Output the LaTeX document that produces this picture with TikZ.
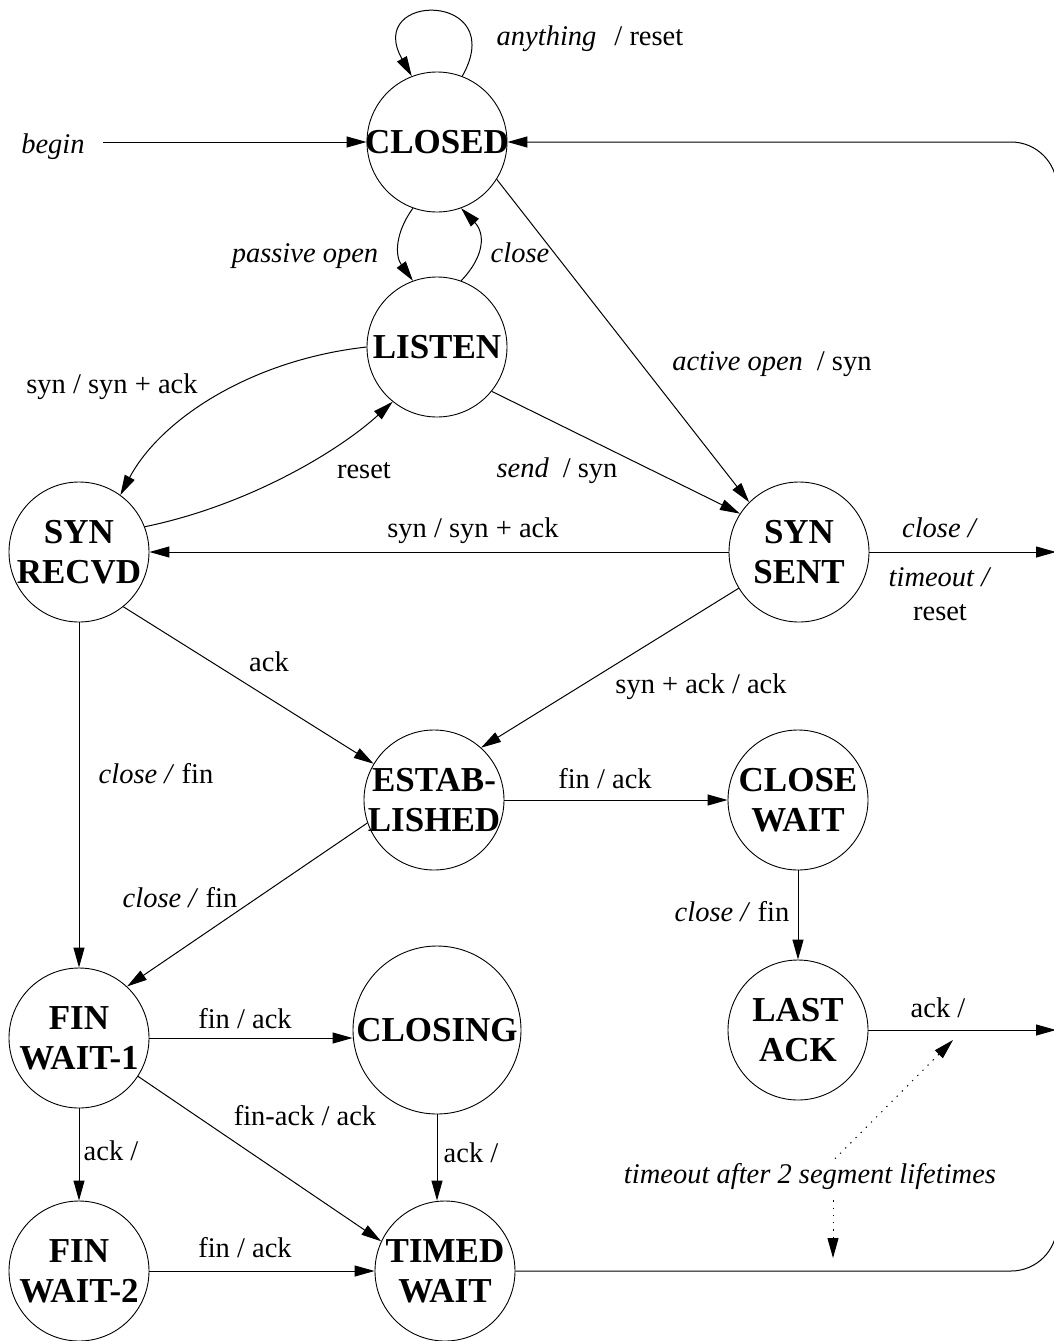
\documentclass[tikz,border=0pt]{standalone}
\usepackage{fontspec}
\setmainfont{Liberation Serif}
\usetikzlibrary{arrows.meta}
\begin{document}
\begin{tikzpicture}[x=1pt,y=-1pt,
  stt/.style={circle,draw,line width=0.9pt,minimum size=140pt,inner sep=0pt},
  stxt/.style={font=\fontsize{35}{40}\selectfont\bfseries,align=center,inner sep=0pt},
  lbl/.style={font=\fontsize{28.5}{32}\selectfont,inner sep=2pt,align=center,anchor=base},
  arr/.style={line width=1pt,-{Triangle[length=20pt,width=11pt]}},
  dotarr/.style={arr,dash pattern=on 1.3pt off 6pt}]
\useasboundingbox (0,0) rectangle (1054,1341);
\clip (0,0) rectangle (1054,1341);
\fill[white] (0,0) rectangle (1054,1341);

% states
\node[stt] (closed) at (437,142) {};
\node[stxt] (closedt) at (closed) {CLOSED};
\node[stt] (listen) at (437,347) {};
\node[stxt] (listent) at (listen) {LISTEN};
\node[stt] (synrcvd) at (79,552) {};
\node[stxt] (synrcvdt) at (synrcvd) {SYN\\RECVD};
\node[stt] (synsent) at (799,552) {};
\node[stxt] (synsentt) at (synsent) {SYN\\SENT};
\node[stt] (estab) at (434,800) {};
\node[stxt] (estabt) at (estab) {ESTAB-\\LISHED};
\node[stt] (closewait) at (798,800) {};
\node[stxt] (closewaitt) at (closewait) {CLOSE\\WAIT};
\node[stt] (finw1) at (79,1038) {};
\node[stxt] (finw1t) at (finw1) {FIN\\WAIT-1};
\node[stt,minimum size=168pt] (closing) at (437,1030) {};
\node[stxt] (closingt) at (closing) {CLOSING};
\node[stt] (lastack) at (798,1030) {};
\node[stxt] (lastackt) at (lastack) {LAST\\ACK};
\node[stt] (finw2) at (79,1271) {};
\node[stxt] (finw2t) at (finw2) {FIN\\WAIT-2};
\node[stt] (timedwait) at (445,1271) {};
\node[stxt] (timedwaitt) at (timedwait) {TIMED\\WAIT};

% free ends
\coordinate (bstart) at (103,142);
\coordinate (rA) at (1056,552);
\coordinate (rB) at (1056,1030);
\coordinate (dA) at (953,1040);
\coordinate (dB) at (833,1258);

% connectors
\draw[arr] (closed.69) .. controls +(48,-85) and +(-48,-85) .. (closed.111);
\draw[arr] (bstart) -- (closed);
\draw[arr] (closed.250) .. controls +(-18,25) and +(-18,-25) .. (listen.110);
\draw[arr] (listen.70) .. controls +(24,-25) and +(24,25) .. (closed.290);
\draw[arr] (closed.-32) -- (synsent.135);
\draw[arr] (listen.west) .. controls (250,360) and (160,420) .. (synrcvd.54);
\draw[arr] (synrcvd.21) .. controls (250,505) and (340,450) .. (listen.231);
\draw[arr] (listen.-39) -- (synsent.147);
\draw[arr] (synsent) -- (synrcvd);
\draw[arr] (synsent) -- (rA);
\draw[arr] (synrcvd.-51) -- (estab.149);
\draw[arr] (synsent.211) -- (estab.48);
\draw[arr] (synrcvd) -- (finw1);
\draw[arr] (estab) -- (closewait);
\draw[arr] (estab.199) -- (finw1.47);
\draw[arr] (closewait) -- (lastack);
\draw[arr] (finw1.east) -- (finw1.east -| closing.west);
\draw[arr] (lastack) -- (rB);
\draw[arr] (finw1.-33) -- (timedwait.155);
\draw[arr] (finw1) -- (finw2);
\draw[arr] (closing.south) -- (closing.south |- timedwait.north);
\draw[arr] (finw2) -- (timedwait);
\draw[arr,rounded corners=46pt] (timedwait.east) -- (1057,1271) -- (1057,142) -- (closed.east);

% labels
\node[lbl] (l1) at (590,45) {\textit{anything}\hspace{18pt}/ reset};
\node[lbl] (l2) at (53,153) {\textit{begin}};
\node[lbl] (l3) at (305,262) {\textit{passive open}};
\node[lbl] (l4) at (520,262) {\textit{close}};
\node[lbl] (l5) at (772,370) {\textit{active open}\hspace{14pt}/ syn};
\node[lbl] (l6) at (112,393) {syn / syn + ack};
\node[lbl] (l7) at (364,478) {reset};
\node[lbl] (l8) at (557,477) {\textit{send}\hspace{14pt}/ syn};
\node[lbl] (l9) at (473,537) {syn / syn + ack};
\node[lbl] (l10) at (940,537) {\textit{close /}};
\node[lbl] (l11) at (940,586) {\textit{timeout /}};
\node[lbl] (l12) at (940,620) {reset};
\node[lbl] (l13) at (269,671) {ack};
\node[lbl] (l14) at (701,693) {syn + ack / ack};
\node[lbl] (l15) at (156,783) {\textit{close /} fin};
\node[lbl] (l16) at (605,788) {fin / ack};
\node[lbl] (l17) at (180,907) {\textit{close /} fin};
\node[lbl] (l18) at (732,921) {\textit{close /} fin};
\node[lbl] (l19) at (245,1028) {fin / ack};
\node[lbl] (l20) at (938,1017) {ack /};
\node[lbl] (l21) at (305,1125) {fin-ack / ack};
\node[lbl] (l22) at (111,1160) {ack /};
\node[lbl] (l23) at (471,1162) {ack /};
\node[lbl] (l24) at (245,1257) {fin / ack};
\node[lbl] (tmo) at (810,1183) {\textit{timeout after 2 segment lifetimes}};

\draw[dotarr] ([xshift=25pt,yshift=2pt]tmo.north) -- (dA);
\draw[dotarr] ([xshift=23pt,yshift=-9pt]tmo.south) -- (dB);
\end{tikzpicture}
\end{document}
